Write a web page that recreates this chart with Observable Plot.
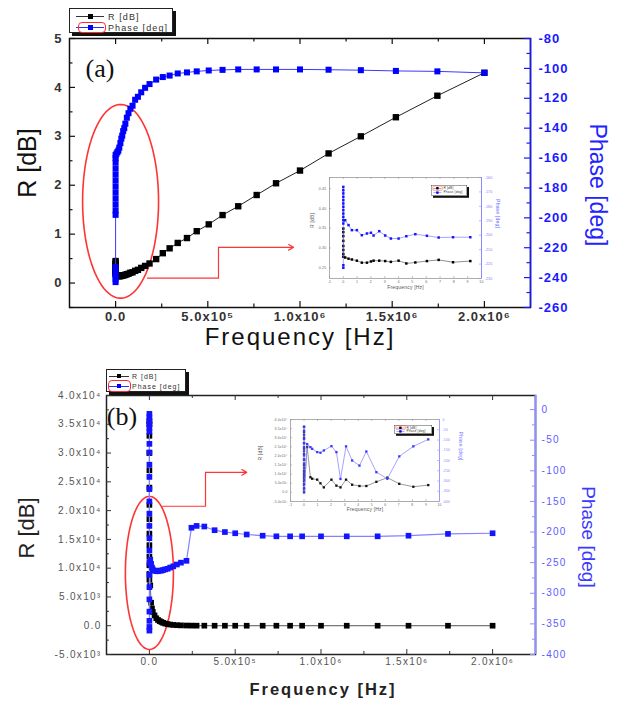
<!DOCTYPE html>
<html><head><meta charset="utf-8">
<script src="https://cdn.jsdelivr.net/npm/d3@7"></script>
<script src="https://cdn.jsdelivr.net/npm/@observablehq/plot@0.6"></script>
<style>
body{margin:0;background:#fff;}
#root{position:relative;width:620px;height:704px;overflow:hidden;background:#fff;}
.t{position:absolute;white-space:nowrap;line-height:1;}
</style></head><body><div id="root"></div><script>
const FONT="'Liberation Sans', Arial, Helvetica, sans-serif";
const SERIF="'Liberation Serif', 'Times New Roman', serif";

// ================= Panel (a) data (frequency in MHz) =================
const aXTicks=[0,0.5,1.0,1.5,2.0];
const aXLabels=["0.0","5.0x10⁵","1.0x10⁶","1.5x10⁶","2.0x10⁶"];
const aXMinor=[0.25,0.75,1.25,1.75];
const aRTicks=[0,1,2,3,4,5];
const aRLabels=["0","1","2","3","4","5"];
const aRMinor=[-0.5,0.5,1.5,2.5,3.5,4.5];
const aPTicks=[-260,-240,-220,-200,-180,-160,-140,-120,-100,-80];
const aPLabels=["-260","-240","-220","-200","-180","-160","-140","-120","-100","-80"];
const aPMinor=[-250,-230,-210,-190,-170,-150,-130,-110,-90];
const aLowRFreq=[0,0,0,0,0,0,0,0,0];
const aLowR=[0.45,0.42,0.38,0.34,0.30,0.26,0.23,0.20,0.18];
const aLowPFreq=[0,0,0,0,0,0,0,0,0,0,0,0,0,0,0,0,0];
const aLowPhase=[-243,-241,-239,-236,-233,-198,-195,-191,-187,-183,-179,-175,-171,-167,-163,-160,-158];
const aFreq=[0.005,0.01,0.015,0.02,0.026,0.031,0.036,0.041,0.047,0.053,0.061,0.07,0.08,0.092,0.106,0.121,0.139,0.16,0.184,0.22,0.256,0.293,0.337,0.387,0.44,0.505,0.58,0.665,0.765,0.87,1.0,1.155,1.33,1.52,1.745,2.0];
const aR=[0.16,0.15,0.14,0.14,0.14,0.15,0.15,0.16,0.16,0.17,0.18,0.19,0.21,0.22,0.25,0.27,0.31,0.35,0.4,0.49,0.61,0.71,0.82,0.92,1.06,1.2,1.39,1.57,1.8,2.04,2.3,2.65,3.0,3.39,3.83,4.3];
const aPhase=[-157,-156,-155,-153,-150,-147,-145,-142,-140,-137,-133,-130,-127,-125,-121,-119,-116,-113,-110.5,-107.5,-105.8,-104.8,-103.4,-102.7,-102,-101.4,-101,-100.7,-100.7,-100.7,-100.7,-100.9,-101.2,-101.7,-102,-103];

// inset (a) (frequency axis as printed, -1..10)
const iaXTicks=[-1,0,1,2,3,4,5,6,7,8,9,10];
const iaXLabels=["-1","0","1","2","3","4","5","6","7","8","9","10"];
const iaRTicks=[0.25,0.30,0.35,0.40,0.45];
const iaRLabels=["0.25","0.30","0.35","0.40","0.45"];
const iaPTicks=[-230,-220,-210,-200,-190,-180,-170,-160];
const iaPLabels=["-230","-220","-210","-200","-190","-180","-170","-160"];
const iaLowRFreq=[0,0,0,0,0,0,0,0];
const iaLowR=[0.349,0.34,0.33,0.318,0.305,0.295,0.285,0.278];
const iaLowPFreq=[0,0,0,0,0,0,0,0,0,0,0,0,0,0];
const iaLowPhase=[-222.6,-220.8,-166.5,-168.8,-171,-173.4,-175.7,-178,-180.3,-182.6,-185,-187.3,-189.6,-191.9];
const iaFreq=[0.135,0.377,0.62,0.98,1.34,1.71,2.0,2.19,2.6,3.03,3.44,4.0,4.56,5.21,6.05,6.9,7.94,9.19];
const iaR=[0.276,0.273,0.271,0.268,0.263,0.263,0.266,0.268,0.268,0.267,0.265,0.268,0.261,0.2635,0.267,0.27,0.264,0.267];
const iaPhase=[-189.6,-193,-196.5,-196.5,-200,-198.8,-198.3,-200.2,-197.2,-200.2,-202.3,-202.3,-200.7,-199.3,-200.4,-201.6,-201.4,-201.4];

// ================= Panel (b) data =================
const bXTicks=[0,0.5,1.0,1.5,2.0];
const bXLabels=["0.0","5.0x10⁵","1.0x10⁶","1.5x10⁶","2.0x10⁶"];
const bXMinor=[0.25,0.75,1.25,1.75];
const bRTicks=[-5000,0,5000,10000,15000,20000,25000,30000,35000,40000];
const bRLabels=["-5.0x10³","0.0","5.0x10³","1.0x10⁴","1.5x10⁴","2.0x10⁴","2.5x10⁴","3.0x10⁴","3.5x10⁴","4.0x10⁴"];
const bRMinor=[-2500,2500,7500,12500,17500,22500,27500,32500,37500];
const bPTicks=[-400,-350,-300,-250,-200,-150,-100,-50,0];
const bPLabels=["-400","-350","-300","-250","-200","-150","-100","-50","0"];
const bPMinor=[-375,-325,-275,-225,-175,-125,-75,-25];
const bLowRFreq=[0,0,0,0,0,0,0,0,0,0,0,0,0,0];
const bLowR=[35500,35000,33000,30000,27000,24000,21000,18500,16000,14000,12000,10500,9000,8000];
const bLowPFreq=[0,0,0,0,0,0,0,0,0,0,0,0,0,0,0,0,0,0,0,0,0,0,0,0];
const bLowPhase=[-7,-12,-18,-24,-30,-36,-56,-70,-90,-110,-130,-150,-170,-190,-210,-230,-250,-270,-290,-310,-330,-345,-355,-361];
const bFreq=[0.005,0.01,0.015,0.02,0.03,0.04,0.05,0.06,0.07,0.08,0.092,0.106,0.121,0.139,0.16,0.184,0.216,0.245,0.275,0.32,0.38,0.44,0.5,0.567,0.66,0.74,0.82,0.89,1.0,1.15,1.33,1.51,1.74,2.0];
const bR=[7000,4000,3000,2400,1800,1300,1000,800,650,500,380,280,200,140,90,60,35,20,10,5,0,0,0,0,0,0,0,0,0,0,0,0,0,0];
const bPhase=[-245,-252,-258,-261,-263,-264,-264,-263,-263,-262,-261,-260,-258,-256,-253,-250,-247,-193,-190,-191,-197,-200,-202,-204,-206,-207,-207,-207,-207,-207,-207,-206,-203,-202];

// inset (b)
const ibXTicks=[-1,0,1,2,3,4,5,6,7,8,9,10];
const ibXLabels=["-1","0","1","2","3","4","5","6","7","8","9","10"];
const ibRTicks=bRTicks;
const ibRLabels=bRLabels;
const ibPTicks=bPTicks;
const ibPLabels=bPLabels;
const ibLowRFreq=[0,0,0,0,0,0,0,0,0,0,0,0,0,0,0];
const ibLowR=[36000,33000,30000,27000,24000,21000,18000,15000,12000,10000,8000,6000,4000,2000,500];
const ibLowPFreq=[0,0,0,0,0,0,0,0,0,0,0,0,0,0,0,0,0];
const ibLowPhase=[-36,-55,-75,-95,-115,-135,-155,-175,-195,-215,-235,-255,-275,-295,-315,-335,-356];
const ibFreq=[0.23,0.47,0.6,0.97,1.21,1.46,2.02,2.39,2.69,3.1,3.55,4.09,4.6,5.34,6.15,7.03,8.07,9.17];
const ibR=[24900,8300,7500,7000,5000,2750,7000,3700,2750,7000,4200,3500,3500,5800,8100,4700,3100,4000];
const ibPhase=[-120,-135,-143,-159,-162,-151,-130,-159,-290,-131,-200,-225,-156,-257,-289,-180,-131,-97];

// ================= helpers =================
const root=document.getElementById("root");
const series=(fl,vl,f,v)=>[...fl.map((x,i)=>({x,y:vl[i]})),...f.map((x,i)=>({x,y:v[i]}))];
function ellipse(cx,cy,rx,ry){return d3.range(0,361,4).map(a=>({x:cx+rx*Math.cos(a*Math.PI/180),y:cy+ry*Math.sin(a*Math.PI/180)}));}

function dual(c){
  const FW=c.width-c.mL-c.mR, FH=c.height-c.mT-c.mB;
  const base={width:c.width,height:c.height,marginLeft:c.mL,marginRight:c.mR,marginTop:c.mT,marginBottom:c.mB,
    style:{background:"transparent",overflow:"visible",fontFamily:FONT},x:{domain:c.xDom,axis:null}};
  const tc=c.tickColor, tw=c.tickW;
  const marksR=[
    Plot.frame({stroke:c.frame,strokeWidth:c.frameW}),
    Plot.tickY(c.yT,{y:d=>d,insetRight:FW-c.tl,stroke:tc,strokeWidth:tw}),
    Plot.tickX(c.xT,{x:d=>d,insetTop:FH-c.tl,stroke:tc,strokeWidth:tw}),
    Plot.tickX(c.xT,{x:d=>d,insetBottom:FH-c.tl,stroke:tc,strokeWidth:tw}),
  ];
  if(c.yM) marksR.push(Plot.tickY(c.yM,{y:d=>d,insetRight:FW-c.ml,stroke:tc,strokeWidth:tw}));
  if(c.xM){
    marksR.push(Plot.tickX(c.xM,{x:d=>d,insetTop:FH-c.ml,stroke:tc,strokeWidth:tw}));
    marksR.push(Plot.tickX(c.xM,{x:d=>d,insetBottom:FH-c.ml,stroke:tc,strokeWidth:tw}));
  }
  marksR.push(
    Plot.axisY({ticks:c.yT,anchor:"left",tickSize:0,tickPadding:c.padL,tickFormat:(d,i)=>c.yL[i],label:null,fontSize:c.fs,fontWeight:c.fw,fill:c.fill}),
    Plot.axisX({ticks:c.xT,anchor:"bottom",tickSize:0,tickPadding:c.padB,tickFormat:(d,i)=>c.xL[i],label:null,fontSize:c.fs,fontWeight:c.fw,fill:c.fill}),
    ...(c.extraR||[]),
    Plot.line(c.Rdata,{x:"x",y:"y",stroke:c.Rline,strokeWidth:c.Rlw}),
    Plot.dot(c.Rdata,{x:"x",y:"y",symbol:"square",r:c.Rr,fill:c.Rfill,stroke:"none"})
  );
  const svgR=Plot.plot({...base,y:{domain:c.yDom,axis:null},marks:marksR});
  const marksP=[
    Plot.ruleX([c.xDom[1]],{stroke:c.right,strokeWidth:c.rightW}),
    Plot.tickY(c.pT,{y:d=>d,insetLeft:FW-c.tl,stroke:c.right,strokeWidth:tw}),
  ];
  if(c.pM) marksP.push(Plot.tickY(c.pM,{y:d=>d,insetLeft:FW-c.ml,stroke:c.right,strokeWidth:tw}));
  marksP.push(
    Plot.axisY({ticks:c.pT,anchor:"right",tickSize:0,tickPadding:c.padR,tickFormat:(d,i)=>c.pL[i],label:null,fontSize:c.fs,fontWeight:c.fw,fill:c.pfill}),
    ...(c.extraP||[]),
    Plot.line(c.Pdata,{x:"x",y:"y",stroke:c.Pline,strokeWidth:c.Plw}),
    Plot.dot(c.Pdata,{x:"x",y:"y",symbol:"square",r:c.Pr,fill:c.Pfill,stroke:"none"})
  );
  const svgP=Plot.plot({...base,y:{domain:c.pDom,axis:null},marks:marksP});
  for(const s of [svgR,svgP]){
    s.style.position="absolute";s.style.left=c.left+"px";s.style.top=c.top+"px";
    s.querySelectorAll("text").forEach(t=>{t.style.letterSpacing=(c.ls||0)+"px";});
    root.appendChild(s);
  }
}
function label(s,cx,cy,o={}){
  const d=document.createElement("div");d.className="t";d.textContent=s;
  Object.assign(d.style,{left:cx+"px",top:cy+"px",fontSize:(o.size||12)+"px",fontWeight:o.weight||"normal",
    color:o.color||"#111",fontFamily:o.family||FONT,letterSpacing:(o.ls||0)+"px",
    transform:`translate(-50%,-50%) rotate(${o.rot||0}deg)`});
  root.appendChild(d);
}
function legend(x,y,k,items,o){
  const box=document.createElement("div");
  Object.assign(box.style,{position:"absolute",left:x+"px",top:y+"px",width:o.w+"px",height:o.h+"px",border:"1px solid #222",
    background:"#fff",boxShadow:`${o.sh}px ${o.sh}px 0 #111`,transform:`scale(${k})`,transformOrigin:"0 0",boxSizing:"border-box"});
  items.forEach((it,i)=>{
    const ry=o.rows[i];
    const ln=document.createElement("div");
    Object.assign(ln.style,{position:"absolute",left:o.l0+"px",top:(ry-0.5)+"px",width:(o.l1-o.l0)+"px",height:"1px",background:it.line});
    const sq=document.createElement("div");
    Object.assign(sq.style,{position:"absolute",left:((o.l0+o.l1)/2-o.sq/2)+"px",top:(ry-o.sq/2)+"px",width:o.sq+"px",height:o.sq+"px",background:it.color});
    const tx=document.createElement("div");tx.textContent=it.name;
    Object.assign(tx.style,{position:"absolute",left:o.tx+"px",top:ry+"px",transform:"translateY(-50%)",fontSize:o.fs+"px",
      letterSpacing:o.ls+"px",color:"#333",whiteSpace:"nowrap",lineHeight:"1",fontFamily:FONT});
    box.append(ln,sq,tx);
  });
  if(o.red){const r=document.createElement("div");
    Object.assign(r.style,{position:"absolute",left:o.red[0]+"px",top:o.red[1]+"px",width:o.red[2]+"px",height:o.red[3]+"px",
      border:"1.2px solid #ff2a2a",borderRadius:"4px",boxSizing:"border-box"});box.append(r);}
  root.appendChild(box);
}
const RED="#ff3434";
const legItems=[{name:"R [dB]",line:"#333",color:"#000"},{name:"Phase [deg]",line:"#3030ff",color:"#0000ff"}];

// ================= Panel (a) =================
dual({left:0,top:0,width:620,height:350,mL:69,mR:90,mT:38,mB:43,
  xDom:[-0.25,2.25],yDom:[-0.5,5],pDom:[-260,-80],
  frame:"#111",frameW:1.5,right:"#1818ff",rightW:1.5,tickColor:"#111",tickW:1.2,tl:6,ml:3.5,
  xT:aXTicks,xL:aXLabels,xM:aXMinor,yT:aRTicks,yL:aRLabels,yM:aRMinor,pT:aPTicks,pL:aPLabels,pM:aPMinor,
  padL:7,padB:4,padR:8,fs:13,fw:"bold",fill:"#333",pfill:"#1a1aff",ls:1,
  Rdata:series(aLowRFreq,aLowR,aFreq,aR),Rline:"#222",Rlw:1,Rr:3.6,Rfill:"#000",
  Pdata:series(aLowPFreq,aLowPhase,aFreq,aPhase),Pline:"#3a3aff",Plw:1,Pr:3.4,Pfill:"#0000ff",
  extraR:[
    Plot.line(ellipse(0.027,1.67,0.206,1.98),{x:"x",y:"y",stroke:RED,strokeWidth:1.6,curve:"linear"}),
    Plot.line([{x:0.173,y:0.1},{x:0.558,y:0.1},{x:0.558,y:0.73}],{x:"x",y:"y",stroke:RED,strokeWidth:1.2}),
    Plot.arrow([{x1:0.558,y1:0.73,x2:0.965,y2:0.73}],{x1:"x1",y1:"y1",x2:"x2",y2:"y2",stroke:RED,strokeWidth:1.2,headLength:7})
  ]
});
// inset (a)
dual({left:300,top:170,width:215,height:128,mL:29,mR:34,mT:7,mB:20,
  xDom:[-1,10],yDom:[0.223,0.478],pDom:[-230,-160],
  frame:"#9a9a9a",frameW:0.8,right:"#8a8aff",rightW:1,tickColor:"#999",tickW:0.6,tl:2,ml:1,
  xT:iaXTicks,xL:iaXLabels,yT:iaRTicks,yL:iaRLabels,pT:iaPTicks,pL:iaPLabels,
  padL:3,padB:2,padR:3,fs:3.6,fw:"normal",fill:"#666",pfill:"#7a7aff",ls:0.2,
  Rdata:series(iaLowRFreq,iaLowR,iaFreq,iaR),Rline:"#444",Rlw:0.6,Rr:1.4,Rfill:"#000",
  Pdata:series(iaLowPFreq,iaLowPhase,iaFreq,iaPhase),Pline:"#6a6aff",Plw:0.6,Pr:1.4,Pfill:"#1515ff",
  extraR:[
    Plot.text(["Frequency [Hz]"],{text:d=>d,frameAnchor:"bottom",dy:10,fontSize:5,fill:"#555"}),
    Plot.text(["R [dB]"],{text:d=>d,frameAnchor:"left",dx:-17,rotate:-90,fontSize:5,fill:"#555"})
  ],
  extraP:[Plot.text(["Phase [deg]"],{text:d=>d,frameAnchor:"right",dx:16,rotate:90,fontSize:5,fill:"#6a6aff"})]
});

// ================= Panel (b) =================
dual({left:0,top:350,width:620,height:354,mL:106,mR:85,mT:45,mB:50,
  xDom:[-0.25,2.25],yDom:[-5000,40000],pDom:[-400,23],
  frame:"#222",frameW:1.5,right:"#8f8fff",rightW:2,tickColor:"#333",tickW:1,tl:5,ml:3,
  xT:bXTicks,xL:bXLabels,xM:bXMinor,yT:bRTicks,yL:bRLabels,yM:bRMinor,pT:bPTicks,pL:bPLabels,pM:bPMinor,
  padL:5,padB:3,padR:6,fs:10,fw:"normal",fill:"#555",pfill:"#5c5cff",ls:1.3,
  Rdata:series(bLowRFreq,bLowR,bFreq,bR),Rline:"#555",Rlw:1,Rr:3.2,Rfill:"#000",
  Pdata:series(bLowPFreq,bLowPhase,bFreq,bPhase),Pline:"#8282ff",Plw:1.2,Pr:3.2,Pfill:"#1414ff",
  extraR:[
    Plot.line(ellipse(0,9170,0.14,13300),{x:"x",y:"y",stroke:RED,strokeWidth:1.6}),
    Plot.line([{x:0.076,y:20760},{x:0.327,y:20760},{x:0.327,y:26640}],{x:"x",y:"y",stroke:RED,strokeWidth:1.2}),
    Plot.arrow([{x1:0.327,y1:26640,x2:0.567,y2:26640}],{x1:"x1",y1:"y1",x2:"x2",y2:"y2",stroke:RED,strokeWidth:1.2,headLength:7})
  ]
});
// inset (b)
dual({left:250,top:410,width:220,height:115,mL:40,mR:31,mT:9,mB:24,
  xDom:[-1,10],yDom:[-5000,40000],pDom:[-400,0],
  frame:"#9a9a9a",frameW:0.8,right:"#9a9aff",rightW:1,tickColor:"#999",tickW:0.6,tl:2,ml:1,
  xT:ibXTicks,xL:ibXLabels,yT:ibRTicks,yL:ibRLabels,pT:ibPTicks,pL:ibPLabels,
  padL:3,padB:2,padR:3,fs:3.4,fw:"normal",fill:"#666",pfill:"#8080ff",ls:0.2,
  Rdata:series(ibLowRFreq,ibLowR,ibFreq,ibR),Rline:"#555",Rlw:0.6,Rr:1.3,Rfill:"#111",
  Pdata:series(ibLowPFreq,ibLowPhase,ibFreq,ibPhase),Pline:"#8c8cff",Plw:0.8,Pr:1.3,Pfill:"#3a3aff",
  extraR:[
    Plot.text(["Frequency [Hz]"],{text:d=>d,frameAnchor:"bottom",dy:9,fontSize:5,fill:"#555"}),
    Plot.text(["R [dB]"],{text:d=>d,frameAnchor:"left",dx:-30,rotate:-90,fontSize:5,fill:"#555"})
  ],
  extraP:[Plot.text(["Phase [deg]"],{text:d=>d,frameAnchor:"right",dx:21,rotate:90,fontSize:5,fill:"#7a7aff"})]
});

// ================= titles & legends =================
label("R [dB]",27,163,{size:25,rot:-90});
label("Frequency [Hz]",300,337,{size:24,ls:2});
label("Phase [deg]",597,185,{size:23,rot:90,color:"#2323ff"});
label("(a)",100,69,{size:26,family:SERIF});
label("R [dB]",27,528,{size:22,rot:-90,color:"#222"});
label("Frequency [Hz]",323,689,{size:16.5,weight:"bold",ls:2,color:"#222"});
label("Phase [deg]",588,537,{size:19,rot:90,color:"#3a3aff"});
label("(b)",122,417,{size:26,family:SERIF});

legend(69,8,1,legItems,{w:104,h:25,sh:3,rows:[7.5,18.5],l0:6,l1:34,sq:5,tx:38,fs:9,ls:1.1,red:[8,13,28,11]});
legend(106,369,1,legItems,{w:80,h:23,sh:3,rows:[6,16],l0:2,l1:22,sq:4,tx:25,fs:7,ls:1,red:[1,10,23,12]});
legend(431,185,0.4,legItems,{w:90,h:27,sh:5,rows:[7,18],l0:5,l1:25,sq:6,tx:30,fs:8,ls:0.5,red:[3,1,25,12]});
legend(394,425,0.4,legItems,{w:95,h:22,sh:5,rows:[6,15],l0:5,l1:25,sq:6,tx:30,fs:8,ls:0.5,red:[3,0,25,11]});
</script></body></html>
